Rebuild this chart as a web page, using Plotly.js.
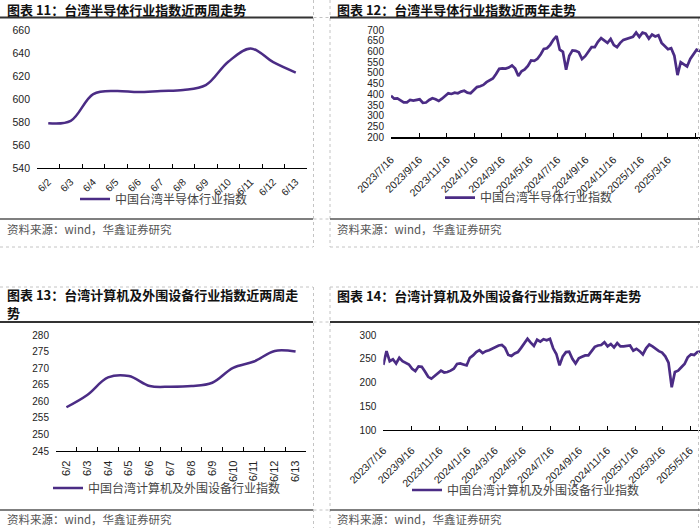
<!DOCTYPE html>
<html>
<head>
<meta charset="utf-8">
<script src="https://cdn.plot.ly/plotly-3.0.1.min.js"></script>
<style>
html,body{margin:0;padding:0;background:#fff;overflow:hidden}
#chart{width:700px;height:528px}
</style>
</head>
<body>
<div id="chart"></div>
<script>
// ---------- data ----------
const shortDays = ['6/2','6/3','6/4','6/5','6/6','6/7','6/8','6/9','6/10','6/11','6/12','6/13'];
const semiShort = [579, 581, 604.3, 607, 606, 607, 607.8, 612, 632.4, 644, 632, 623];
const compShort = [258.2, 261.9, 267.2, 267.6, 264.6, 264.4, 264.6, 265.6, 270.1, 272, 275.2, 275];

const longDates = [
'2023-07-16','2023-07-23','2023-07-30','2023-08-06','2023-08-13','2023-08-20','2023-08-27','2023-09-03','2023-09-10','2023-09-17',
'2023-09-24','2023-10-01','2023-10-08','2023-10-15','2023-10-22','2023-10-29','2023-11-05','2023-11-12','2023-11-19','2023-11-26',
'2023-12-03','2023-12-10','2023-12-17','2023-12-24','2023-12-31','2024-01-07','2024-01-14','2024-01-21','2024-01-28','2024-02-04',
'2024-02-11','2024-02-18','2024-02-25','2024-03-03','2024-03-10','2024-03-17','2024-03-24','2024-03-31','2024-04-07','2024-04-14',
'2024-04-21','2024-04-28','2024-05-05','2024-05-12','2024-05-19','2024-05-26','2024-06-02','2024-06-09','2024-06-16','2024-06-23',
'2024-06-30','2024-07-07','2024-07-14','2024-07-21','2024-07-28','2024-08-04','2024-08-11','2024-08-18','2024-08-25','2024-09-01',
'2024-09-08','2024-09-15','2024-09-22','2024-09-29','2024-10-06','2024-10-13','2024-10-20','2024-10-27','2024-11-03','2024-11-10',
'2024-11-17','2024-11-24','2024-12-01','2024-12-08','2024-12-15','2024-12-22','2024-12-29','2025-01-05','2025-01-12','2025-01-19',
'2025-01-26','2025-02-02','2025-02-09','2025-02-16','2025-02-23','2025-03-02','2025-03-09','2025-03-16','2025-03-23','2025-03-30',
'2025-04-06','2025-04-13','2025-04-20','2025-04-27','2025-05-04','2025-05-11','2025-05-18','2025-05-25','2025-06-01','2025-06-08',
'2025-06-13'];

const semiLong = [
394,380,381,370,363,363,374,371,374,377,
361,362,374,382,377,369,380,394,405,402,
408,405,413,417,408,405,418,434,438,444,
457,466,474,495,519,521,520,525,535,520,
486,508,516,533,558,556,566,586,612,615,
631,654,672,608,598,515,580,605,603,596,
565,578,601,620,620,645,662,650,640,658,
630,620,640,654,658,664,668,688,668,688,
683,660,679,670,676,640,625,610,615,580,
490,550,540,530,565,585,608,602,605,612,
608];

const compLong = [
237,266,245,249,240,252,245,241,238,229,
224,234,233,223,212,208,214,219,225,221,
222,225,229,239,240,238,236,252,257,264,
268,262,266,268,271,274,278,279,273,258,
256,261,264,273,283,292,284,277,290,286,
291,289,292,272,260,236,255,264,265,250,
240,251,254,257,257,266,275,278,279,285,
276,281,274,283,276,276,277,278,267,271,
266,259,272,280,276,270,266,263,255,242,
190,222,225,232,239,253,259,258,264,265,
266];

const longTickVals = ['2023-07-16','2023-09-16','2023-11-16','2024-01-16','2024-03-16','2024-05-16',
                      '2024-07-16','2024-09-16','2024-11-16','2025-01-16','2025-03-16','2025-05-16'];
const longTickText = ['2023/7/16','2023/9/16','2023/11/16','2024/1/16','2024/3/16','2024/5/16',
                      '2024/7/16','2024/9/16','2024/11/16','2025/1/16','2025/3/16','2025/5/16'];

const titles = ['图表 11：台湾半导体行业指数近两周走势',
                '图表 12：台湾半导体行业指数近两年走势',
                '图表 13：台湾计算机及外围设备行业指数近两周走',
                '势',
                '图表 14：台湾计算机及外围设备行业指数近两年走势'];
const seriesNames = ['中国台湾半导体行业指数','中国台湾计算机及外围设备行业指数'];
const sourceText = '资料来源：wind，华鑫证券研究';

// ---------- helpers ----------
const W = 700, H = 528;
const px = v => v / W;
const py = v => 1 - v / H;
const purple = '#4b2c85';
const latin = 'Liberation Sans, Arial, sans-serif';
const cjk = 'Noto Sans CJK SC, sans-serif';

const traces = [
  {x: shortDays, y: semiShort, xaxis: 'x', yaxis: 'y', legend: 'legend'},
  {x: longDates, y: semiLong, xaxis: 'x2', yaxis: 'y2', legend: 'legend2'},
  {x: shortDays, y: compShort, xaxis: 'x3', yaxis: 'y3', legend: 'legend3'},
  {x: longDates, y: compLong, xaxis: 'x4', yaxis: 'y4', legend: 'legend4'}
].map((t, i) => Object.assign(t, {
  type: 'scatter', mode: 'lines', name: seriesNames[i < 2 ? 0 : 1],
  line: {color: purple, width: (i % 2 === 0) ? 2.5 : 2.7, shape: (i % 2 === 0) ? 'spline' : 'linear', smoothing: 1},
  hoverinfo: 'skip'
}));

const xBase = {
  showline: true, linecolor: '#000', linewidth: 1.2, ticks: 'inside', ticklen: 4,
  tickcolor: '#000', tickwidth: 1, showgrid: false, zeroline: false, fixedrange: true,
  tickfont: {family: latin, size: 10, color: '#222'}
};
const yBase = {
  showline: false, ticks: '', showgrid: false, zeroline: false, fixedrange: true,
  tickfont: {family: latin, size: 10.5, color: '#222'}, ticklabelstandoff: 6
};
const legBase = {
  xanchor: 'left', yanchor: 'middle', bgcolor: 'rgba(0,0,0,0)', orientation: 'h',
  font: {family: cjk, size: 12, color: '#444'}, itemclick: false, itemdoubleclick: false
};

const shapes = [];
function hline(x0, x1, y, w, c, dash) {
  shapes.push({type: 'line', xref: 'paper', yref: 'paper', x0: px(x0), x1: px(x1), y0: py(y), y1: py(y),
               line: {color: c, width: w, dash: dash || 'solid'}});
}
function vline(x, y0, y1, w, c, dash) {
  shapes.push({type: 'line', xref: 'paper', yref: 'paper', x0: px(x), x1: px(x), y0: py(y0), y1: py(y1),
               line: {color: c, width: w, dash: dash || 'solid'}});
}
const dashC = '#c4c4c4';
[[0, 247], [287, 528]].forEach(([a, b]) => {
  vline(313.5, a, b, 1, dashC, 'dot');
  vline(330, a, b, 1, dashC, 'dot');
});
vline(698.5, 18, 247, 1, dashC, 'dot');
vline(698.5, 322, 528, 1, dashC, 'dot');
hline(0, 313, 247, 1, dashC, 'dot');
hline(330, 698, 247, 1, dashC, 'dot');
hline(0, 313, 287, 1, dashC, 'dot');
hline(330, 698, 287, 1, dashC, 'dot');
[17.5, 219, 322, 510].forEach(y => hline(313.5, 330, y, 1, dashC, 'dot'));
[[0, 313], [330, 700]].forEach(([a, b]) => {
  hline(a, b, 17.5, 2, '#333');
  hline(a, b, 219, 1.6, '#555');
  hline(a, b, 322, 2, '#333');
  hline(a, b, 510, 1.6, '#555');
});

const annotations = [];
function txt(x, y, text, font, extra) {
  annotations.push(Object.assign({xref: 'paper', yref: 'paper', x: px(x), y: py(y), text: text,
    showarrow: false, xanchor: 'left', yanchor: 'middle', align: 'left', borderpad: 0, font: font}, extra || {}));
}
const titleFont = {family: cjk, size: 13, color: '#111', weight: 'bold'};
txt(6, 9.5, '<b>' + titles[0] + '</b>', titleFont);
txt(336, 9.5, '<b>' + titles[1] + '</b>', titleFont);
txt(6, 294.5, '<b>' + titles[2] + '</b>', titleFont);
txt(6, 312.5, '<b>' + titles[3] + '</b>', titleFont);
txt(336, 295, '<b>' + titles[4] + '</b>', titleFont);
const srcFont = {family: cjk, size: 11.5, color: '#555'};
txt(6, 228.5, sourceText, srcFont);
txt(336, 228.5, sourceText, srcFont);
txt(6, 518.5, sourceText, srcFont);
txt(336, 518.5, sourceText, srcFont);

const layout = {
  width: W, height: H, margin: {l: 0, r: 0, t: 0, b: 0},
  paper_bgcolor: '#fff', plot_bgcolor: 'rgba(0,0,0,0)', showlegend: true,
  xaxis: Object.assign({}, xBase, {type: 'category', domain: [px(37), px(307)], anchor: 'y',
    range: [-0.5, 11.5], tickson: 'boundaries', tickangle: -45, ticklabelstandoff: 3}),
  yaxis: Object.assign({}, yBase, {domain: [py(168), py(30)], anchor: 'x', range: [540, 660], dtick: 20, tick0: 540}),
  xaxis2: Object.assign({}, xBase, {type: 'date', domain: [px(391), 1], anchor: 'y2',
    range: ['2023-07-16', '2025-05-25 10:00'], tickmode: 'array', tickvals: longTickVals, ticktext: longTickText,
    tickangle: -45, ticklabelstandoff: 11, tickfont: {family: latin, size: 10.5, color: '#222'}}),
  yaxis2: Object.assign({}, yBase, {domain: [py(137.3), py(30)], anchor: 'x2', range: [200, 700], dtick: 50, tick0: 200,
    tickfont: {family: latin, size: 10, color: '#222'}}),
  xaxis3: Object.assign({}, xBase, {type: 'category', domain: [px(56), px(306)], anchor: 'y3',
    range: [-0.5, 11.5], tickson: 'boundaries', tickangle: -90, ticklabelstandoff: 4,
    tickfont: {family: latin, size: 11, color: '#222'}}),
  yaxis3: Object.assign({}, yBase, {domain: [py(451), py(335)], anchor: 'x3', range: [245, 280], dtick: 5, tick0: 245,
    tickfont: {family: latin, size: 10, color: '#222'}}),
  xaxis4: Object.assign({}, xBase, {type: 'date', domain: [px(383.3), 1], anchor: 'y4',
    range: ['2023-07-16', '2025-06-06 19:00'], tickmode: 'array', tickvals: longTickVals, ticktext: longTickText,
    tickangle: -45, ticklabelstandoff: 9, tickfont: {family: latin, size: 10.5, color: '#222'}}),
  yaxis4: Object.assign({}, yBase, {domain: [py(430), py(335)], anchor: 'x4', range: [100, 300], dtick: 50, tick0: 100,
    tickfont: {family: latin, size: 10, color: '#222'}}),
  legend: Object.assign({}, legBase, {x: px(75), y: py(199)}),
  legend2: Object.assign({}, legBase, {x: px(440), y: py(197.7)}),
  legend3: Object.assign({}, legBase, {x: px(48), y: py(488)}),
  legend4: Object.assign({}, legBase, {x: px(407), y: py(490)}),
  shapes: shapes,
  annotations: annotations
};

Plotly.newPlot('chart', traces, layout, {displayModeBar: false, staticPlot: true});
</script>
</body>
</html>
